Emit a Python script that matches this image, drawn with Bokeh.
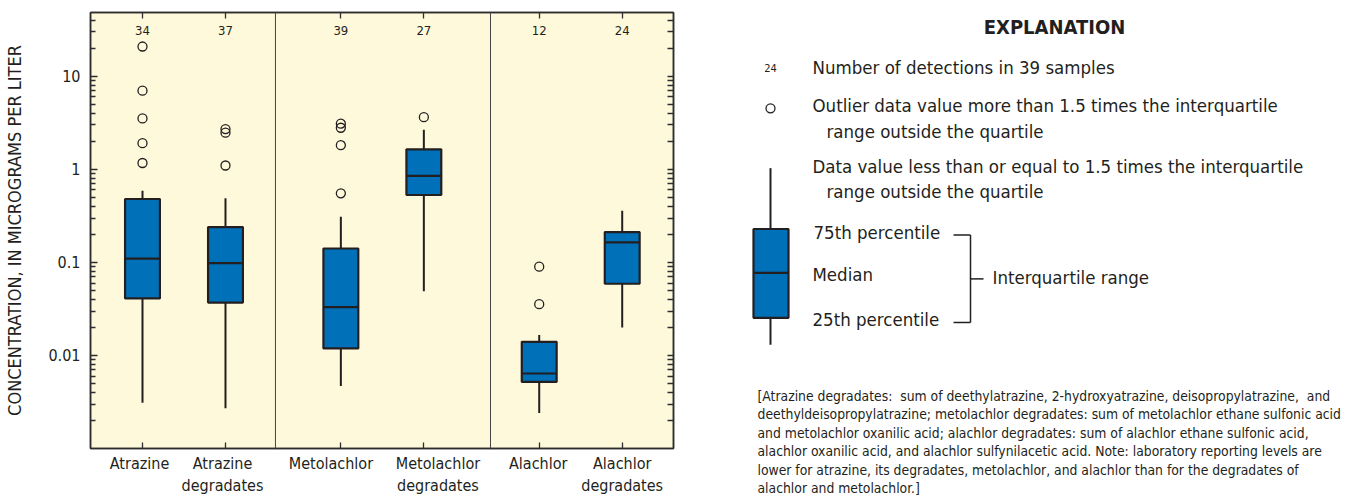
from bokeh.plotting import figure
from bokeh.layouts import row
from bokeh.models import (FixedTicker, LinearAxis, LogAxis, Span, Range1d,
                          NumeralTickFormatter, CustomJSTickFormatter,
                          ColumnDataSource)
from bokeh.core.properties import value
from bokeh.embed import file_html
from bokeh.resources import INLINE

# ---- data ---------------------------------------------------------------
labels = ["Atrazine", "Atrazine\ndegradates", "Metolachlor",
          "Metolachlor\ndegradates", "Alachlor", "Alachlor\ndegradates"]
group = [0, 0, 1, 1, 2, 2]
member = [0, 1, 0, 1, 0, 1]
detections = [34, 37, 39, 27, 12, 24]

whisker_low = [0.0031, 0.0027, 0.0047, 0.049, 0.0024, 0.020]
q1 = [0.041, 0.037, 0.0119, 0.53, 0.0052, 0.059]
median = [0.110, 0.098, 0.033, 0.85, 0.0064, 0.164]
q3 = [0.48, 0.24, 0.141, 1.64, 0.0140, 0.212]
whisker_high = [0.59, 0.49, 0.31, 2.67, 0.0166, 0.36]

outliers = [
    [20.9, 7.0, 3.53, 1.91, 1.17],   # Atrazine
    [2.71, 2.48, 1.10],              # Atrazine degradates
    [3.1, 2.8, 1.82, 0.553],         # Metolachlor
    [3.64],                          # Metolachlor degradates
    [0.090, 0.0356],                 # Alachlor
    [],                              # Alachlor degradates
]

major_ticks = [0.01, 0.1, 1, 10]

# ---- styling ------------------------------------------------------------
FONT = "'DejaVu Sans Condensed', Roboto"
INK = "#231F20"
AXIS = "#2e2e2e"
BOX_FILL = "#0070B8"
PANEL_BG = "#FEF9DA"
GROUP_STEP = 2.39
BOX_W = 0.42
TOP, BOTTOM = 12, 449          # frame edges shared by both panels
# small sideways shifts (x units) that keep neighbouring names apart
LABEL_NUDGE = [-0.036, -0.036, -0.12, 0.17, -0.012, 0.0]

xpos = [1 + g * GROUP_STEP + m for g, m in zip(group, member)]
minor_ticks = [m * 10.0 ** e for e in range(-3, 2) for m in range(2, 10)]

p = figure(width=700, height=498, y_axis_type="log",
           x_range=Range1d(0.3735, 7.398), y_range=Range1d(0.001, 48.5),
           output_backend="svg", toolbar_location=None,
           min_border_left=90, min_border_right=27,
           min_border_top=TOP, min_border_bottom=498 - BOTTOM)
p.border_fill_color = "white"
p.background_fill_color = PANEL_BG
p.outline_line_color = AXIS
p.outline_line_width = 1.5
p.xgrid.visible = False
p.ygrid.visible = False

blank = CustomJSTickFormatter(code="return ''")

# left axis
ticker = FixedTicker(ticks=major_ticks, minor_ticks=minor_ticks)
ya = p.yaxis[0]
ya.ticker = ticker
ya.formatter = NumeralTickFormatter(format="0.[00]")
ya.major_tick_in = 7
ya.major_tick_out = 0
ya.minor_tick_in = 5
ya.minor_tick_out = 0
ya.axis_line_color = AXIS
ya.axis_line_width = 1.5
ya.major_tick_line_color = AXIS
ya.minor_tick_line_color = AXIS
ya.major_tick_line_width = 1.3
ya.minor_tick_line_width = 1.3
ya.major_label_standoff = 10
ya.major_label_text_font = FONT
ya.major_label_text_font_size = "16px"
ya.major_label_text_color = INK
ya.axis_label = "CONCENTRATION, IN MICROGRAMS PER LITER"
ya.axis_label_text_font = FONT
ya.axis_label_text_font_size = "18px"
ya.axis_label_text_font_style = "normal"
ya.axis_label_text_color = INK
ya.axis_label_standoff = 20

# right axis (ticks only)
ra = LogAxis(ticker=ticker, major_tick_in=6, major_tick_out=0,
             minor_tick_in=6, minor_tick_out=0,
             formatter=blank, major_label_standoff=0,
             axis_line_color=AXIS, axis_line_width=1.5,
             major_tick_line_color=AXIS, minor_tick_line_color=AXIS,
             major_tick_line_width=1.3, minor_tick_line_width=1.3)
p.add_layout(ra, "right")

# bottom axis: tick marks at each category
xa = p.xaxis[0]
xa.ticker = FixedTicker(ticks=xpos)
xa.formatter = blank
xa.major_label_standoff = 0
xa.major_tick_in = 6
xa.major_tick_out = 0
xa.minor_tick_line_color = None
xa.axis_line_color = AXIS
xa.axis_line_width = 1.5
xa.major_tick_line_color = AXIS
xa.major_tick_line_width = 1.3

# second bottom axis carrying the category names
name_x = [x + d for x, d in zip(xpos, LABEL_NUDGE)]
na = LinearAxis(ticker=FixedTicker(ticks=name_x),
                major_label_overrides={x: lab for x, lab in zip(name_x, labels)},
                major_tick_in=0, major_tick_out=0,
                minor_tick_line_color=None, axis_line_color=None,
                major_tick_line_color=None,
                major_label_standoff=5,
                major_label_text_font=FONT,
                major_label_text_font_size="16px",
                major_label_text_color=INK)
p.add_layout(na, "below")

# top axis carrying the detection counts, drawn inside the panel
ta = LinearAxis(ticker=FixedTicker(ticks=xpos),
                major_label_overrides={x: str(n) for x, n in zip(xpos, detections)},
                major_tick_in=6, major_tick_out=0,
                minor_tick_line_color=None,
                axis_line_color=AXIS, axis_line_width=1.5,
                major_tick_line_color=AXIS, major_tick_line_width=1.3,
                major_label_standoff=-22,
                major_label_text_font=FONT,
                major_label_text_font_size="13px",
                major_label_text_color=INK)
p.add_layout(ta, "above")

# group separators
for loc in (2.602, 5.193):
    p.add_layout(Span(location=loc, dimension="height",
                      line_color="#444444", line_width=1))

src = ColumnDataSource(dict(x=xpos, lo=whisker_low, q1=q1, med=median,
                            q3=q3, hi=whisker_high,
                            x0=[x - BOX_W / 2 for x in xpos],
                            x1=[x + BOX_W / 2 for x in xpos]))

p.segment(x0="x", y0="lo", x1="x", y1="q1", source=src,
          line_color=INK, line_width=2)
p.segment(x0="x", y0="q3", x1="x", y1="hi", source=src,
          line_color=INK, line_width=2)
p.vbar(x="x", width=BOX_W, bottom="q1", top="q3", source=src,
       fill_color=BOX_FILL, line_color=INK, line_width=2.2)
p.segment(x0="x0", y0="med", x1="x1", y1="med", source=src,
          line_color=INK, line_width=2.2)

ox, oy = [], []
for x, vals in zip(xpos, outliers):
    ox += [x] * len(vals)
    oy += vals
p.scatter(ox, oy, marker="circle", size=9, fill_color=None,
          line_color=INK, line_width=1.3)

# ---- explanation panel (page pixel coordinates, y downwards) -----------
q = figure(width=654, height=498, x_range=Range1d(700, 1354),
           y_range=Range1d(BOTTOM, TOP), output_backend="svg",
           toolbar_location=None, x_axis_location=None,
           y_axis_location=None, min_border_left=0, min_border_right=0,
           min_border_top=TOP, min_border_bottom=498 - BOTTOM)
q.outline_line_color = None
q.xgrid.visible = False
q.ygrid.visible = False
q.background_fill_color = "white"
q.border_fill_color = "white"


def txt(x, y, s, size, align="left", style="normal"):
    q.text([x], [y], text=[s], text_font=value(FONT),
           text_font_size=size, text_align=align, text_baseline="middle",
           text_color=INK, text_font_style=style, level="overlay")


txt(1054, 27, "EXPLANATION", "20px", align="center", style="bold")
txt(770, 68, "24", "11px", align="center")
txt(812, 67, "Number of detections in 39 samples", "18.5px")
q.scatter([770], [108], marker="circle", size=9, fill_color=None,
          line_color=INK, line_width=1.3, level="overlay")
txt(812, 105, "Outlier data value more than 1.5 times the interquartile", "18.5px")
txt(826, 131, "range outside the quartile", "18.5px")
txt(812, 166, "Data value less than or equal to 1.5 times the interquartile", "18.5px")
txt(826, 191, "range outside the quartile", "18.5px")

q.segment([770, 770], [168, 318], [770, 770], [229, 345],
          line_color=INK, line_width=2, level="overlay")
q.quad(left=[753], right=[788], top=[229], bottom=[318],
       fill_color=BOX_FILL, line_color=INK, line_width=2.2, level="overlay")
q.segment([753], [273], [788], [273], line_color=INK, line_width=2.2,
          level="overlay")

txt(813, 233, "75th percentile", "18.5px")
txt(812, 275, "Median", "18.5px")
txt(812, 320, "25th percentile", "18.5px")
q.segment([953, 970, 953, 970], [235, 235, 322.7, 279],
          [970, 970, 970, 983], [235, 322.7, 322.7, 279],
          line_color=INK, line_width=1.5, level="overlay")
txt(992, 278, "Interquartile range", "18.5px")

note = [
    "[Atrazine degradates:\u00a0 sum of deethylatrazine, 2-hydroxyatrazine, deisopropylatrazine,\u00a0 and",
    "deethyldeisopropylatrazine; metolachlor degradates: sum of metolachlor ethane sulfonic acid",
    "and metolachlor oxanilic acid; alachlor degradates: sum of alachlor ethane sulfonic acid,",
    "alachlor oxanilic acid, and alachlor sulfynilacetic acid. Note: laboratory reporting levels are",
    "lower for atrazine, its degradates, metolachlor, and alachlor than for the degradates of",
    "alachlor and metolachlor.]",
]
for i, line in enumerate(note):
    txt(757, 396 + 18.6 * i, line, "13.8px")

layout = row(p, q, spacing=0)
open("out.html", "w").write(file_html(layout, INLINE))
